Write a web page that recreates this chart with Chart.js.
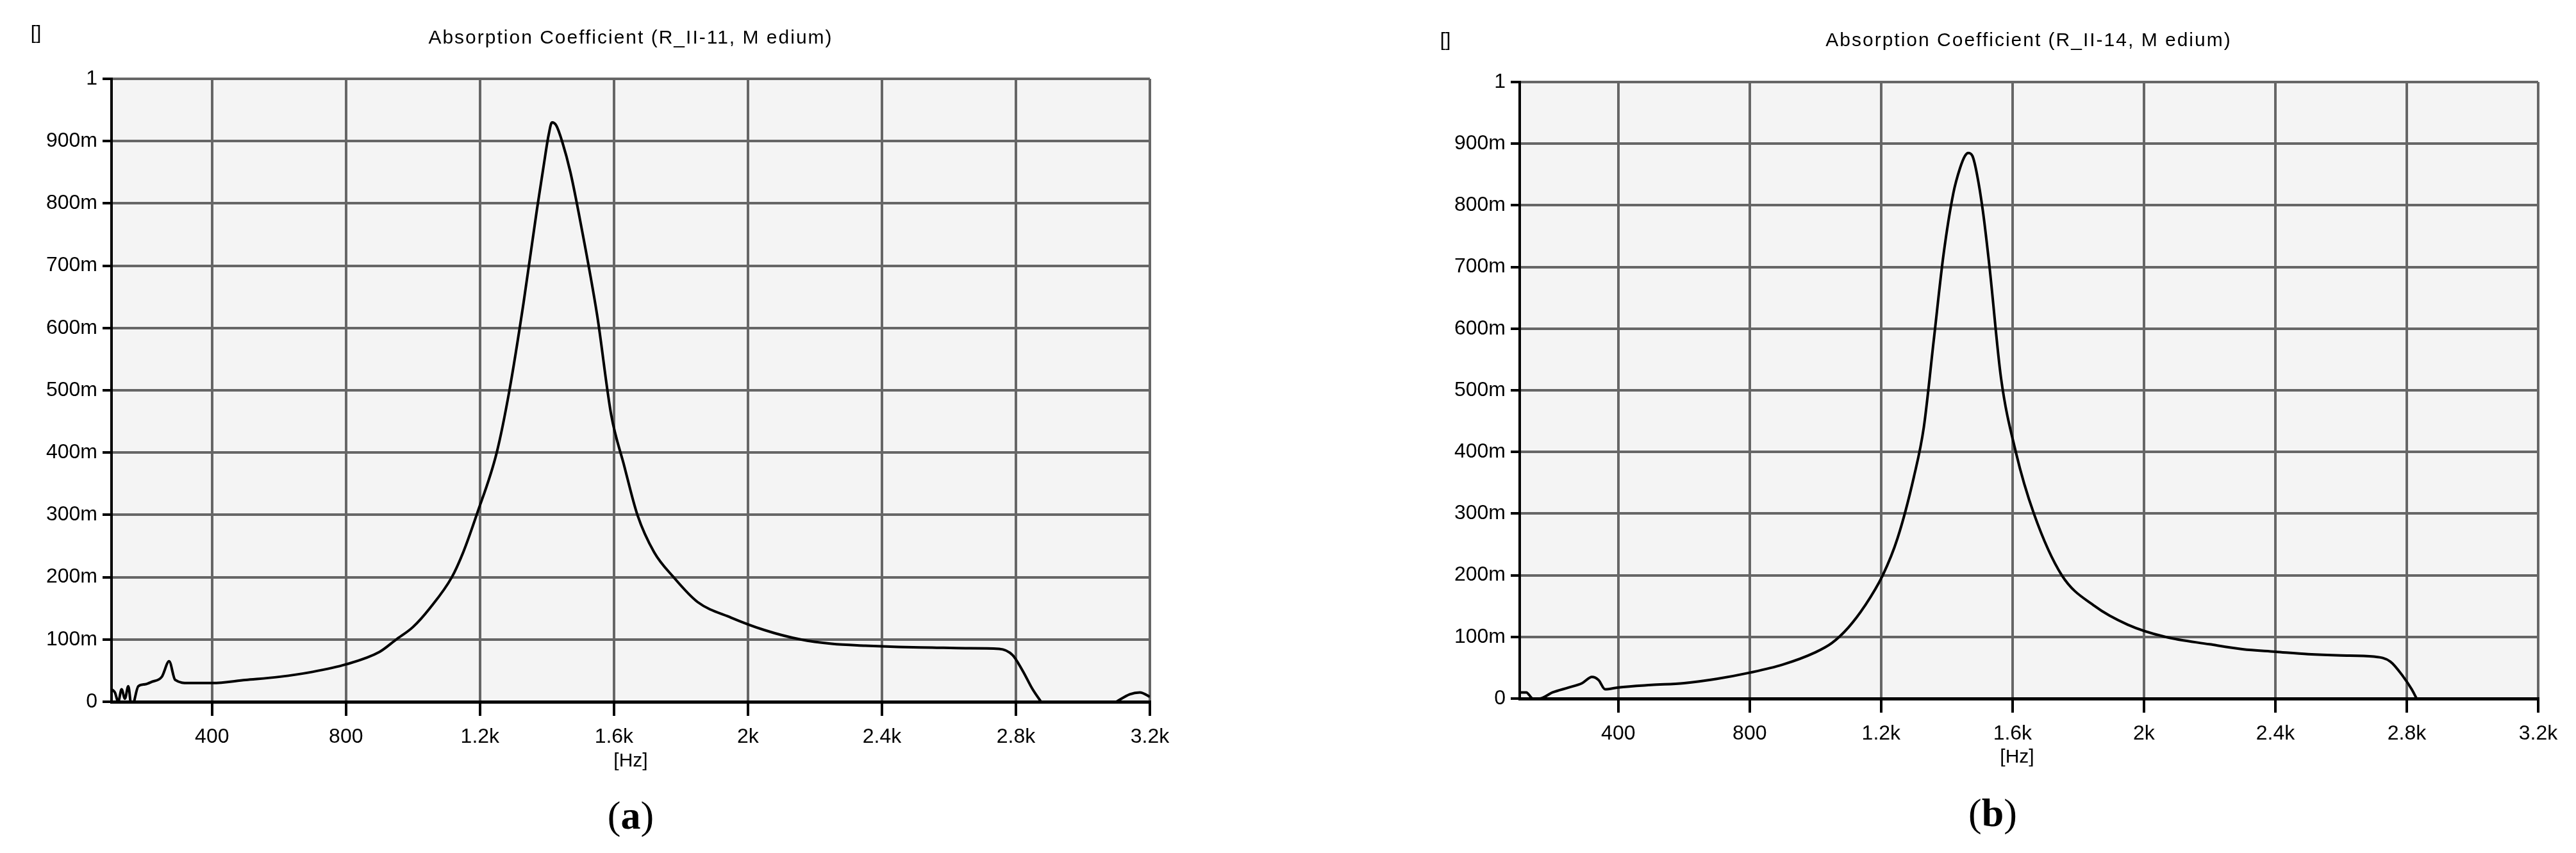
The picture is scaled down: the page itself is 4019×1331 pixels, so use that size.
<!DOCTYPE html>
<html><head><meta charset="utf-8">
<script src="https://cdn.jsdelivr.net/npm/chart.js@4"></script>
<style>
body{margin:0;width:4019px;height:1331px;background:#fff;position:relative;overflow:hidden;font-family:"Liberation Sans Narrow","Liberation Sans",Arial,sans-serif}
.t{position:absolute;white-space:nowrap;color:#000;transform:translate(-50%,-50%)}
canvas{position:absolute;top:0}
</style></head><body>
<canvas id="ca" style="left:0"></canvas>
<canvas id="cb" style="left:2010px"></canvas>
<div class="t" style="left:56px;top:51px;font-size:30px">[]</div>
<div class="t" style="left:984px;top:58px;font-size:30px;letter-spacing:2px">Absorption Coefficient (R_II-11, M edium)</div>
<div class="t" style="left:984px;top:1186px;font-size:30px">[Hz]</div>
<div class="t" style="left:984px;top:1272px;font-size:62px;font-family:'Liberation Serif',serif">(<b>a</b>)</div>
<div class="t" style="left:2255px;top:62px;font-size:30px">[]</div>
<div class="t" style="left:3165px;top:62px;font-size:30px;letter-spacing:2px">Absorption Coefficient (R_II-14, M edium)</div>
<div class="t" style="left:3147px;top:1180px;font-size:30px">[Hz]</div>
<div class="t" style="left:3109px;top:1268px;font-size:62px;font-family:'Liberation Serif',serif">(<b>b</b>)</div>
<script>
const freqA=[100,110,120,130,140,150,160,180,200,220,250,272,290,330,400,500,600,700,800,900,950,1000,1050,1116,1150,1190,1250,1288,1330,1370,1390,1405,1415,1428,1445,1470,1500,1550,1592,1630,1670,1720,1778,1850,1950,2050,2157,2250,2350,2450,2550,2650,2750,2790,2820,2850,2875,2885,3100,3140,3170,3200,3225];
const valA=[0.02,0.015,0.0,0.02,0.005,0.025,-0.01,0.025,0.028,0.032,0.04,0.065,0.035,0.03,0.03,0.035,0.04,0.048,0.06,0.08,0.1,0.12,0.15,0.2,0.24,0.3,0.4,0.5,0.64,0.79,0.86,0.91,0.93,0.925,0.9,0.85,0.77,0.62,0.46,0.38,0.3,0.24,0.2,0.16,0.135,0.115,0.1,0.093,0.09,0.088,0.087,0.086,0.085,0.075,0.05,0.02,0.0,null,0.0,0.012,0.015,0.008,0.0];
const freqB=[100,120,140,160,200,250,290,320,340,360,400,500,600,700,800,900,1000,1050,1100,1150,1205,1250,1300,1330,1360,1390,1420,1440,1455,1465,1478,1492,1510,1530,1565,1610,1665,1750,1850,1950,2065,2200,2300,2400,2500,2600,2700,2750,2790,2815,2830];
const valB=[0.01,0.01,0.0,0.0,0.01,0.018,0.025,0.035,0.03,0.015,0.018,0.022,0.025,0.032,0.042,0.055,0.075,0.09,0.115,0.15,0.2,0.26,0.36,0.44,0.58,0.72,0.82,0.86,0.88,0.885,0.88,0.85,0.79,0.7,0.52,0.4,0.3,0.2,0.15,0.12,0.1,0.088,0.08,0.076,0.072,0.07,0.068,0.06,0.035,0.015,0.0];
const xTickVals=[400,800,1200,1600,2000,2400,2800,3200];
const xTickLabels=['400','800','1.2k','1.6k','2k','2.4k','2.8k','3.2k'];
const yTickVals=[0,0.1,0.2,0.3,0.4,0.5,0.6,0.7,0.8,0.9,1];
const yTickLabels=['0','100m','200m','300m','400m','500m','600m','700m','800m','900m','1'];

const bgPlugin={id:'bg',beforeDraw(c){const a=c.chartArea,x=c.ctx;x.save();x.fillStyle='#f4f4f4';x.fillRect(a.left,a.top,a.right-a.left,a.bottom-a.top);x.restore();}};
function make(id,W,H,freq,val,L,R,T,B){
  const cv=document.getElementById(id);cv.width=W;cv.height=H;cv.style.width=W+'px';cv.style.height=H+'px';
  new Chart(cv,{type:'line',data:{datasets:[{data:freq.map((f,i)=>({x:f,y:val[i]})),borderColor:'#000',borderWidth:4,pointRadius:0,tension:0.2,cubicInterpolationMode:'monotone',spanGaps:false}]},
  options:{responsive:false,animation:false,devicePixelRatio:1,
   layout:{padding:{top:T,right:W-R,left:0,bottom:0}},
   plugins:{legend:{display:false},tooltip:{enabled:false}},
   scales:{
    x:{type:'linear',min:100,max:3200,afterBuildTicks(s){s.ticks=xTickVals.map(v=>({value:v}));},
      afterFit(s){s.height=H-B;},
      ticks:{autoSkip:false,maxRotation:0,color:'#000',font:{size:32,family:'Liberation Sans Narrow, Liberation Sans'},padding:14,callback:(v)=>xTickLabels[xTickVals.indexOf(v)]},
      grid:{color:'#666',lineWidth:4,tickColor:'#000',tickLength:22,drawTicks:true},border:{color:'#000',width:5}},
    y:{min:0,max:1,afterBuildTicks(s){s.ticks=yTickVals.map(v=>({value:v}));},
      afterFit(s){s.width=L;},
      ticks:{color:'#000',font:{size:32,family:'Liberation Sans Narrow, Liberation Sans'},padding:8,callback:(v)=>yTickLabels[yTickVals.indexOf(v)]},
      grid:{color:'#666',lineWidth:4,tickColor:'#000',tickLength:14},border:{color:'#000',width:4}}
   }},plugins:[bgPlugin]});
}
make('ca',2000,1331,freqA,valA,174,1794,123,1095);
make('cb',2009,1331,freqB,valB,2371-2010,3960-2010,128,1090);
</script></body></html>
